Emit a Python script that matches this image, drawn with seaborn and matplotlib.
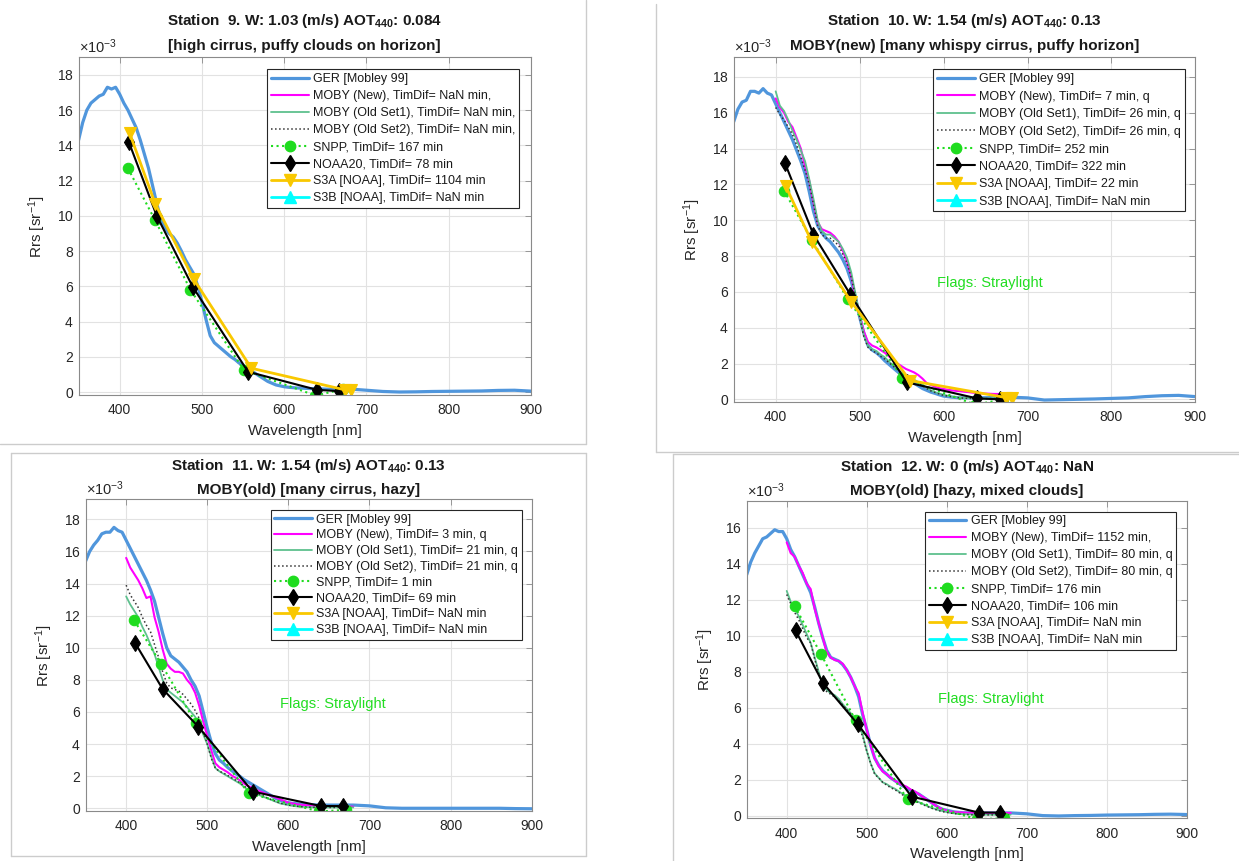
import numpy as np
import matplotlib
matplotlib.use("Agg")
import matplotlib.pyplot as plt
from matplotlib.lines import Line2D
from matplotlib.ticker import ScalarFormatter
import matplotlib.transforms as mtransforms
import seaborn as sns

sns.set_style("white")
plt.rcParams['font.family'] = ['Liberation Sans', 'DejaVu Sans']
plt.rcParams['mathtext.fontset'] = 'custom'
plt.rcParams['mathtext.rm'] = 'Liberation Sans'
plt.rcParams['mathtext.it'] = 'Liberation Sans:italic'
plt.rcParams['mathtext.bf'] = 'Liberation Sans:bold'

# ---------------- wavelength grids [nm] ----------------
ger_wl = list(range(350, 625, 5)) + list(range(640, 901, 20))
moby_wl = list(range(400, 681, 5))
snpp_wl = [410, 443, 486, 551, 638, 671]
noaa20_wl = [411, 445, 489, 556, 640, 667]
s3a_wl = [412, 443, 490, 560, 674, 681]

# ---------------- Rrs values, units of 1e-3 sr^-1 ----------------
# GER [Mobley 99]
ger_st9 = [14.3, 15.3, 16.0, 16.4, 16.6, 16.8, 16.9, 17.3, 17.2, 17.3,
           16.9, 16.4, 16.0, 15.5, 15.0, 14.3, 13.5, 12.7, 11.7, 10.7,
           9.8, 9.3, 9.0, 8.8, 8.45, 8.0, 7.5, 7.1, 6.7, 6.0,
           5.1, 4.1, 3.2, 2.8, 2.6, 2.4, 2.2, 2.0, 1.85, 1.65,
           1.5, 1.35, 1.2, 1.05, 0.9, 0.75, 0.6, 0.5, 0.4, 0.35,
           0.3, 0.27, 0.25, 0.23, 0.22,
           0.18, 0.15, 0.17, 0.1, 0.03, 0.0, 0.01, 0.03, 0.04, 0.05, 0.06, 0.09, 0.1, 0.05]
ger_st10 = [15.5, 16.2, 16.6, 16.7, 17.2, 17.2, 17.1, 17.35, 17.1, 17.0,
            16.5, 16.0, 15.5, 15.0, 14.5, 13.9, 13.3, 12.6, 11.6, 10.5,
            9.7, 9.3, 9.0, 8.8, 8.5, 8.2, 7.8, 7.3, 6.6, 5.7,
            4.6, 3.7, 3.0, 2.75, 2.6, 2.4, 2.15, 1.95, 1.75, 1.55,
            1.35, 1.15, 1.0, 0.9, 0.75, 0.6, 0.5, 0.4, 0.33, 0.25,
            0.18, 0.15, 0.12, 0.1, 0.08,
            0.08, 0.1, 0.12, 0.08, -0.04, -0.02, 0.0, 0.02, 0.05, 0.08, 0.15, 0.2, 0.22, 0.15]
ger_st11 = [15.4, 16.0, 16.4, 16.7, 17.1, 17.2, 17.2, 17.5, 17.3, 17.2,
            16.7, 16.2, 15.7, 15.2, 14.7, 14.2, 13.6, 12.9, 11.9, 10.9,
            10.0, 9.5, 9.3, 9.1, 8.8, 8.5, 8.0, 7.6, 7.0, 6.0,
            5.0, 4.1, 3.4, 3.0, 2.8, 2.55, 2.35, 2.15, 2.0, 1.8,
            1.65, 1.5, 1.35, 1.2, 1.05, 0.9, 0.75, 0.6, 0.5, 0.4,
            0.35, 0.3, 0.28, 0.25, 0.23,
            0.2, 0.2, 0.2, 0.15, 0.03, 0.0, 0.0, 0.0, 0.0, 0.0, 0.0, 0.0, -0.02, -0.03]
ger_st12 = [13.4, 14.1, 14.6, 15.0, 15.4, 15.5, 15.7, 15.9, 15.8, 15.8,
            15.4, 14.8, 14.4, 13.9, 13.4, 12.9, 12.4, 11.6, 10.7, 9.9,
            9.2, 8.8, 8.7, 8.6, 8.4, 8.1, 7.7, 7.2, 6.6, 5.6,
            4.8, 3.9, 3.2, 2.8, 2.5, 2.3, 2.1, 1.95, 1.8, 1.65,
            1.55, 1.4, 1.3, 1.2, 1.05, 0.9, 0.75, 0.6, 0.45, 0.35,
            0.3, 0.25, 0.2, 0.18, 0.16,
            0.15, 0.14, 0.15, 0.1, 0.0, -0.02, 0.0, 0.01, 0.03, 0.04, 0.05, 0.07, 0.08, 0.06]

# MOBY (New), (Old Set1), (Old Set2)
moby_new_st10 = [16.8, 16.3, 16.0, 15.5, 15.2, 14.6, 14.0, 13.0, 12.2, 11.0,
                 9.9, 9.5, 9.4, 9.3, 9.1, 8.8, 8.3, 7.7, 6.9, 5.7,
                 4.7, 3.8, 3.2, 3.0, 2.9, 2.75, 2.6, 2.4, 2.2, 2.0,
                 1.85, 1.7, 1.6, 1.5, 1.35, 1.15, 0.9, 0.8, 0.7, 0.62,
                 0.58, 0.53, 0.5, 0.47, 0.45, 0.42, 0.4, 0.37, 0.35, 0.33,
                 0.32, 0.31, 0.3, 0.3, 0.3, 0.3, 0.3]
moby_old1_st10 = [17.2, 16.4, 16.1, 15.6, 15.0, 14.5, 13.9, 13.3, 12.3, 11.2,
                  10.0, 9.4, 9.2, 9.2, 9.0, 8.8, 8.4, 7.9, 7.1, 5.9,
                  4.7, 3.6, 3.0, 2.8, 2.7, 2.5, 2.35, 2.1, 1.9, 1.7,
                  1.5, 1.35, 1.2, 1.1, 0.95, 0.8, 0.65, 0.5, 0.4, 0.32,
                  0.25, 0.2, 0.15, 0.12, 0.1, 0.08, 0.07, 0.06, 0.05, 0.05,
                  0.05, 0.05, 0.05, 0.05, 0.05, 0.05, 0.05]
moby_old2_st10 = [16.3, 15.9, 15.6, 15.2, 14.8, 14.2, 13.5, 12.8, 12.0, 10.9,
                  9.7, 9.2, 9.0, 9.0, 8.8, 8.6, 8.1, 7.6, 6.8, 5.8,
                  4.6, 3.5, 2.9, 2.7, 2.6, 2.4, 2.25, 2.05, 1.85, 1.65,
                  1.45, 1.3, 1.15, 1.05, 0.9, 0.75, 0.6, 0.47, 0.38, 0.3,
                  0.22, 0.18, 0.14, 0.1, 0.08, 0.06, 0.05, 0.04, 0.04, 0.04,
                  0.04, 0.04, 0.04, 0.04, 0.04, 0.04, 0.04]
moby_new_st11 = [15.6, 15.0, 14.6, 14.2, 13.7, 13.1, 13.2, 11.9, 11.0, 9.9,
                 9.0, 8.7, 8.5, 8.5, 8.4, 8.0, 7.7, 7.2, 6.4, 5.4,
                 4.5, 3.6, 2.8, 2.55, 2.4, 2.25, 2.05, 1.9, 1.75, 1.55,
                 1.4, 1.3, 1.15, 1.05, 0.95, 0.85, 0.75, 0.66, 0.55, 0.45,
                 0.35, 0.3, 0.25, 0.22, 0.2, 0.18, 0.17, 0.15, 0.15, 0.13,
                 0.12, 0.12, 0.1, 0.1, 0.1, 0.1, 0.1]
moby_old1_st11 = [13.2, 12.7, 12.3, 11.9, 11.3, 10.8, 10.2, 9.6, 8.8, 8.0,
                  7.4, 7.2, 7.0, 6.8, 6.6, 6.3, 6.0, 5.7, 5.2, 4.6,
                  4.0, 3.2, 2.5, 2.3, 2.15, 2.0, 1.85, 1.7, 1.55, 1.35,
                  1.15, 1.0, 0.9, 0.8, 0.7, 0.6, 0.5, 0.4, 0.3, 0.25,
                  0.2, 0.15, 0.12, 0.1, 0.08, 0.07, 0.06, 0.05, 0.05, 0.05,
                  0.05, 0.05, 0.05, 0.05, 0.05, 0.05, 0.05]
moby_old2_st11 = [13.9, 13.3, 12.9, 12.5, 11.9, 11.4, 11.0, 10.2, 9.4, 8.5,
                  7.8, 7.5, 7.4, 7.3, 7.1, 6.8, 6.5, 6.1, 5.6, 4.8,
                  4.0, 3.1, 2.5, 2.3, 2.2, 2.05, 1.9, 1.75, 1.6, 1.4,
                  1.2, 1.05, 0.95, 0.85, 0.75, 0.62, 0.52, 0.42, 0.32, 0.26,
                  0.2, 0.16, 0.13, 0.1, 0.08, 0.07, 0.06, 0.05, 0.05, 0.05,
                  0.05, 0.05, 0.05, 0.05, 0.05, 0.05, 0.05]
moby_new_st12 = [15.2, 14.6, 14.4, 13.9, 13.5, 12.9, 12.6, 11.5, 10.7, 9.9,
                 9.1, 8.8, 8.65, 8.6, 8.45, 8.1, 7.7, 7.2, 6.8, 5.7,
                 4.8, 3.9, 3.2, 2.75, 2.45, 2.3, 2.1, 1.95, 1.8, 1.7,
                 1.6, 1.45, 1.35, 1.2, 1.05, 0.9, 0.75, 0.6, 0.45, 0.35,
                 0.28, 0.22, 0.2, 0.18, 0.17, 0.16, 0.16, 0.15, 0.15, 0.15,
                 0.15, 0.15, 0.15, 0.15, 0.15, 0.15, 0.15]
moby_old1_st12 = [12.5, 11.9, 11.5, 11.1, 10.6, 10.1, 9.6, 8.8, 8.0, 7.2,
                  7.0, 6.8, 6.7, 6.5, 6.2, 5.95, 5.7, 5.4, 5.0, 4.5,
                  3.6, 2.9, 2.35, 2.1, 1.85, 1.75, 1.6, 1.5, 1.35, 1.2,
                  1.1, 0.95, 0.85, 0.75, 0.65, 0.55, 0.45, 0.38, 0.3, 0.25,
                  0.2, 0.15, 0.12, 0.1, 0.08, 0.07, 0.06, 0.05, 0.05, 0.05,
                  0.05, 0.05, 0.05, 0.05, 0.05, 0.05, 0.05]
moby_old2_st12 = [12.3, 11.8, 11.3, 10.9, 10.4, 9.9, 9.6, 8.7, 7.9, 7.1,
                  6.9, 6.75, 6.6, 6.4, 6.15, 5.9, 5.65, 5.35, 4.95, 4.4,
                  3.6, 2.9, 2.3, 2.1, 1.85, 1.7, 1.55, 1.45, 1.3, 1.15,
                  1.05, 0.92, 0.82, 0.72, 0.62, 0.52, 0.43, 0.35, 0.28, 0.22,
                  0.18, 0.14, 0.11, 0.09, 0.07, 0.06, 0.05, 0.04, 0.04, 0.04,
                  0.04, 0.04, 0.04, 0.04, 0.04, 0.04, 0.04]

# Satellite matchups
snpp_st9 = [12.7, 9.75, 5.8, 1.25, -0.2, 0.15]
snpp_st10 = [11.65, 8.9, 5.6, 1.2, -0.3, 0.0]
snpp_st11 = [11.7, 9.0, 5.3, 0.93, -0.2, -0.1]
snpp_st12 = [11.65, 8.97, 5.3, 0.91, -0.2, -0.15]
noaa20_st9 = [14.2, 10.0, 5.95, 1.15, 0.12, 0.05]
noaa20_st10 = [13.2, 9.2, 5.85, 0.95, 0.05, 0.0]
noaa20_st11 = [10.3, 7.43, 5.08, 1.04, 0.14, 0.14]
noaa20_st12 = [10.3, 7.4, 5.08, 1.06, 0.17, 0.17]
s3a_st9 = [14.7, 10.7, 6.4, 1.35, 0.12, 0.1]
s3a_st10 = [11.9, 8.8, 5.45, 1.05, 0.1, 0.05]

# Titles and time differences
stations = ["9", "10", "11", "12"]
wind = ["1.03", "1.54", "1.54", "0"]
aot440 = ["0.084", "0.13", "0.13", "NaN"]
subtitles = ["[high cirrus, puffy clouds on horizon]",
             "MOBY(new) [many whispy cirrus, puffy horizon]",
             "MOBY(old) [many cirrus, hazy]",
             "MOBY(old) [hazy, mixed clouds]"]
timdif_moby_new = ["NaN min,", "7 min, q", "3 min, q", "1152 min,"]
timdif_moby_old = ["NaN min,", "26 min, q", "21 min, q", "80 min, q"]
timdif_snpp = ["167", "252", "1", "176"]
timdif_noaa20 = ["78", "322", "69", "106"]
timdif_s3a = ["1104", "22", "NaN", "NaN"]
timdif_s3b = ["NaN", "NaN", "NaN", "NaN"]
flag_text = [None, "Flags: Straylight", "Flags: Straylight", "Flags: Straylight"]

ger_all = [ger_st9, ger_st10, ger_st11, ger_st12]
moby_new_all = [None, moby_new_st10, moby_new_st11, moby_new_st12]
moby_old1_all = [None, moby_old1_st10, moby_old1_st11, moby_old1_st12]
moby_old2_all = [None, moby_old2_st10, moby_old2_st11, moby_old2_st12]
snpp_all = [snpp_st9, snpp_st10, snpp_st11, snpp_st12]
noaa20_all = [noaa20_st9, noaa20_st10, noaa20_st11, noaa20_st12]
s3a_all = [s3a_st9, s3a_st10, None, None]

# ---------------- styles ----------------
C_GER = '#5096dc'
C_NEW = '#ff00ff'
C_OLD1 = '#5ec08e'
C_OLD2 = '#333333'
C_SNPP = '#1fdc1f'
C_N20 = '#000000'
C_S3A = '#f9c800'
C_S3B = '#00ffff'

STY = {
    'ger': dict(color=C_GER, lw=2.3, ls='-'),
    'new': dict(color=C_NEW, lw=1.5, ls='-'),
    'old1': dict(color=C_OLD1, lw=1.3, ls='-'),
    'old2': dict(color=C_OLD2, lw=1.1, ls=':'),
    'snpp': dict(color=C_SNPP, lw=1.5, ls=':', marker='o', ms=7.5),
    'n20': dict(color=C_N20, lw=1.5, ls='-', marker='d', ms=8),
    's3a': dict(color=C_S3A, lw=2.0, ls='-', marker='v', ms=8.5),
    's3b': dict(color=C_S3B, lw=2.0, ls='-', marker='^', ms=8.5),
}

W, H = 1239, 861
fig = plt.figure(figsize=(W / 100, H / 100), dpi=100)
fig.patch.set_facecolor('white')


def frac_rect(l, t, r, b):
    return [l / W, 1 - b / H, (r - l) / W, (b - t) / H]


def fig_line(x0, y0, x1, y1):
    fig.add_artist(Line2D([x0 / W, x1 / W], [1 - y0 / H, 1 - y1 / H],
                          transform=fig.transFigure, color='#cccccc', lw=1.0))


# panel frames
fig_line(585.5, 0, 585.5, 444)
fig_line(0, 444, 585.5, 444)
fig_line(656, 4, 656, 452)
fig_line(656, 452, W, 452)
fig_line(11, 453, 586, 453)
fig_line(11, 453, 11, 856)
fig_line(586, 453, 586, 856)
fig_line(11, 856, 586, 856)
fig_line(672.5, 454, 672.5, H)
fig_line(672.5, 454, W, 454)

# axes boxes in pixels: left, top, right, bottom
boxes = [(78.6, 57.3, 531.0, 395.0),
         (733.7, 57.3, 1195.4, 402.0),
         (85.6, 499.3, 531.7, 811.0),
         (746.7, 501.0, 1186.7, 818.3)]
ylims = [(-0.17, 19.0), (-0.15, 19.1), (-0.17, 19.25), (-0.15, 17.5)]
yticks = [np.arange(0, 19, 2), np.arange(0, 19, 2), np.arange(0, 19, 2), np.arange(0, 17, 2)]
leg_anchor = [(0.9735, 0.9645), (0.9768, 0.965), (0.9778, 0.9657), (0.9757, 0.9663)]
leg_spacing = [0.40, 0.44, 0.30, 0.40]
title_dy = [(32.5, 7.0), (32.5, 7.0), (29.5, 5.0), (29.5, 5.5)]


def plot_series(ax, x, vals, key):
    st = STY[key]
    kw = dict(color=st['color'], linewidth=st['lw'], linestyle=st['ls'])
    if 'marker' in st:
        kw.update(marker=st['marker'], markersize=st['ms'],
                  markeredgecolor=st['color'], markerfacecolor=st['color'],
                  markeredgewidth=0.8)
    sns.lineplot(x=x, y=np.array(vals) * 1e-3, ax=ax, sort=False,
                 estimator=None, legend=False, **kw)


def handle(key):
    st = STY[key]
    return Line2D([], [], color=st['color'], lw=st['lw'], ls=st['ls'],
                  marker=st.get('marker', None), ms=st.get('ms', 0),
                  mec=st['color'], mfc=st['color'])


for i in range(4):
    ax = fig.add_axes(frac_rect(*boxes[i]))
    ax.set_axisbelow(True)
    ax.grid(True, color='#e2e2e2', lw=0.8)

    plot_series(ax, ger_wl, ger_all[i], 'ger')
    if moby_new_all[i] is not None:
        plot_series(ax, moby_wl, moby_new_all[i], 'new')
        plot_series(ax, moby_wl, moby_old1_all[i], 'old1')
        plot_series(ax, moby_wl, moby_old2_all[i], 'old2')
    plot_series(ax, snpp_wl, snpp_all[i], 'snpp')
    plot_series(ax, noaa20_wl, noaa20_all[i], 'n20')
    if s3a_all[i] is not None:
        plot_series(ax, s3a_wl, s3a_all[i], 's3a')

    ax.set_xlim(350, 900)
    ax.set_ylim(ylims[i][0] * 1e-3, ylims[i][1] * 1e-3)
    ax.set_xticks([400, 500, 600, 700, 800, 900])
    ax.set_yticks(yticks[i] * 1e-3)
    fmt = ScalarFormatter(useMathText=True)
    fmt.set_powerlimits((-3, -3))
    ax.yaxis.set_major_formatter(fmt)
    ax.yaxis.get_offset_text().set_fontsize(10.5)
    ax.yaxis.get_offset_text().set_color('#707070')

    for sp in ax.spines.values():
        sp.set_color('#8a8a8a')
        sp.set_linewidth(0.8)
    ax.tick_params(direction='in', length=4, width=0.6, color='#8a8a8a',
                   top=True, right=True, labelsize=10, labelcolor='#262626')
    ax.tick_params(axis='x', pad=6)
    ax.tick_params(axis='y', pad=3.5)

    ax.set_xlabel('Wavelength [nm]', fontsize=11, color='#262626', labelpad=4.5)
    ax.set_ylabel(r'Rrs [sr$^{-1}$]', fontsize=11, color='#262626', labelpad=6)

    t1 = (f'Station  {stations[i]}. W: {wind[i]} (m/s) AOT' + r'$_{\mathbf{440}}$'
          + f': {aot440[i]}')
    tr1 = mtransforms.offset_copy(ax.transAxes, fig=fig, x=0, y=title_dy[i][0], units='dots')
    tr2 = mtransforms.offset_copy(ax.transAxes, fig=fig, x=0, y=title_dy[i][1], units='dots')
    ax.text(0.5, 1.0, t1, transform=tr1, ha='center', va='baseline',
            fontsize=11, fontweight='bold', color='#1a1a1a')
    ax.text(0.5, 1.0, subtitles[i], transform=tr2, ha='center', va='baseline',
            fontsize=11, fontweight='bold', color='#1a1a1a')

    if flag_text[i]:
        ax.text(655, 6.5e-3, flag_text[i], color='#22dd22', fontsize=10.5,
                ha='center', va='center')

    labels = ['GER [Mobley 99]',
              f'MOBY (New), TimDif= {timdif_moby_new[i]}',
              f'MOBY (Old Set1), TimDif= {timdif_moby_old[i]}',
              f'MOBY (Old Set2), TimDif= {timdif_moby_old[i]}',
              f'SNPP, TimDif= {timdif_snpp[i]} min',
              f'NOAA20, TimDif= {timdif_noaa20[i]} min',
              f'S3A [NOAA], TimDif= {timdif_s3a[i]} min',
              f'S3B [NOAA], TimDif= {timdif_s3b[i]} min']
    handles = [handle(k) for k in ['ger', 'new', 'old1', 'old2', 'snpp', 'n20', 's3a', 's3b']]
    leg = ax.legend(handles, labels, loc='upper right', bbox_to_anchor=leg_anchor[i],
                    borderaxespad=0, fontsize=9, frameon=True, fancybox=False,
                    edgecolor='#262626', framealpha=1, labelspacing=leg_spacing[i],
                    handlelength=3.0, handletextpad=0.35, borderpad=0.3)
    leg.get_frame().set_linewidth(0.8)
    for txt in leg.get_texts():
        txt.set_color('#1a1a1a')

fig.savefig('out.png', dpi=100, facecolor='white')
